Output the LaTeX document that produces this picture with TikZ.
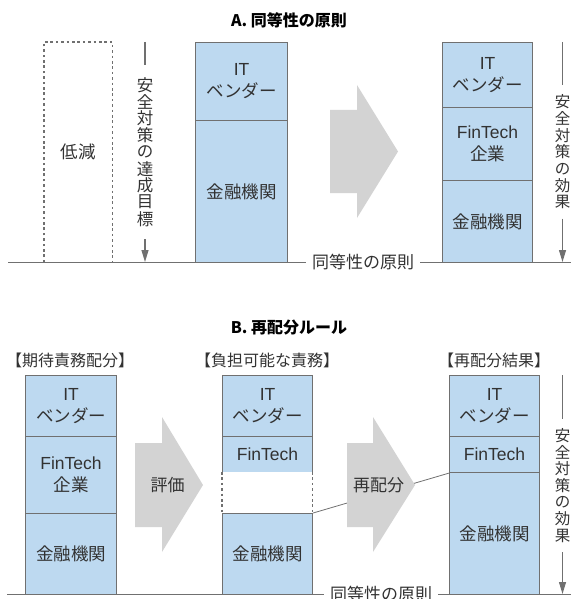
\documentclass[tikz,border=0pt]{standalone}
\usepackage{fontspec}
\setmainfont{Noto Sans CJK JP}
\newfontfamily\lat{Liberation Sans}
\usetikzlibrary{arrows.meta}
\definecolor{boxblue}{RGB}{189,217,240}
\definecolor{edge}{RGB}{112,112,112}
\definecolor{arrowgray}{RGB}{211,211,211}
\definecolor{txt}{RGB}{50,50,50}
\newcommand{\vch}[1]{\hbox to 16pt{\hss\vbox to 16.7pt{\vss\hbox{#1}\vss}\hss}}
\begin{document}
\begin{tikzpicture}[x=1pt,y=-1pt,
  seg/.style={draw=edge, line width=1.1pt, fill=boxblue, anchor=north west,
    inner sep=0pt, align=center, text=txt, font=\fontsize{17.5}{22}\selectfont},
  gapseg/.style={draw=none, fill=white, anchor=north west, inner sep=0pt},
  dotside/.style={draw=edge, line width=1.8pt, dash pattern=on 2.6pt off 2.8pt},
  vlab/.style={inner xsep=0pt, text=txt, font=\fontsize{16.5}{16.7}\selectfont},
  vlabr/.style={inner xsep=0pt, text=txt, font=\fontsize{15.5}{16.7}\selectfont},
  guide/.style={draw=edge, line width=1.1pt},
  guidearrow/.style={guide, -{Triangle[width=7pt,length=12pt]}},
  base/.style={draw=edge, line width=1pt},
  baselab/.style={fill=white, inner xsep=6pt, inner ysep=1pt, text=txt, font=\fontsize{17}{19}\selectfont},
  title/.style={text=black, font=\fontsize{16}{18}\selectfont\bfseries},
  header/.style={text=txt, font=\fontsize{16}{18}\selectfont},
  bigarrow/.style={fill=arrowgray},
  arrowlab/.style={text=txt, font=\fontsize{17}{19}\selectfont},
  conn/.style={draw=edge, line width=0.8pt}
]
\useasboundingbox (0,0) rectangle (571,599);

% ================= A =================
\node[title] (titleA) at (289,20) {A. 同等性の原則};

% baseline
\coordinate (blA) at (8,262);
\coordinate (brA) at (571,262);
\draw[base] (blA) -- (brA);

% reduced (dotted) box
\node[gapseg, fill=none, minimum width=68, minimum height=220, font=\fontsize{17.5}{22}\selectfont, text=txt] (red) at (44,42) {低減};
\draw[dotside] (red.south west) |- (red.north east) -- (red.south east);

% target label
\node[vlab, inner ysep=12pt] (tgt) at (145,152) {\vbox{\offinterlineskip\vch{安}\vch{全}\vch{対}\vch{策}\vch{の}\vch{達}\vch{成}\vch{目}\vch{標}}};
\coordinate (tgtTop) at (145,42);
\coordinate (tgtBot) at (145,262);
\draw[guide] (tgtTop) -- (tgt.north);
\draw[guidearrow] (tgt.south) -- (tgtBot);

% box 1
\node[seg, minimum width=92, minimum height=78] (a1it) at (195,42) {{\lat IT}\\ベンダー};
\node[seg, minimum width=92, minimum height=142] (a1bank) at (195,120) {金融機関};

% big arrow
\fill[bigarrow] (330,110) -- (357,110) -- (357,85) -- (398,151.5) -- (357,218) -- (357,193) -- (330,193) -- cycle;

% box 2
\node[seg, minimum width=90, minimum height=65] (a2it) at (442,42) {{\lat IT}\\ベンダー};
\node[seg, minimum width=90, minimum height=73] (a2fin) at (442,107) {{\lat FinTech}\\企業};
\node[seg, minimum width=90, minimum height=82] (a2bank) at (442,180) {金融機関};

% effect label
\node[vlabr, inner ysep=8pt] (effA) at (562.5,152) {\vbox{\offinterlineskip\vch{安}\vch{全}\vch{対}\vch{策}\vch{の}\vch{効}\vch{果}}};
\coordinate (effATop) at (562.5,42);
\coordinate (effABot) at (562.5,262);
\draw[guide] (effATop) -- (effA.north);
\draw[guidearrow] (effA.south) -- (effABot);

\node[baselab] (eqA) at (363,262) {同等性の原則};

% ================= B =================
\node[title] (titleB) at (289,328) {B. 再配分ルール};

\coordinate (blB) at (7,594);
\coordinate (brB) at (571,594);
\draw[base] (blB) -- (brB);

\node[header] (hL) at (70,360) {【期待責務配分】};
\node[header] (hM) at (267,360) {【負担可能な責務】};
\node[header] (hR) at (494,360) {【再配分結果】};

% left box
\node[seg, minimum width=91, minimum height=61] (lit) at (25,375) {{\lat IT}\\ベンダー};
\node[seg, minimum width=91, minimum height=77] (lfin) at (25,436) {{\lat FinTech}\\企業};
\node[seg, minimum width=91, minimum height=81] (lbank) at (25,513) {金融機関};

% arrow 1
\fill[bigarrow] (135,443) -- (162,443) -- (162,417) -- (203,485) -- (162,552) -- (162,527) -- (135,527) -- cycle;
\node[arrowlab] (eval) at (167.5,485) {評価};

% middle box
\node[seg, minimum width=90, minimum height=61] (mit) at (222,375) {{\lat IT}\\ベンダー};
\node[seg, minimum width=90, minimum height=36] (mfin) at (222,436) {\lat FinTech};
\node[gapseg, minimum width=90, minimum height=41] (mgap) at (222,472) {};
\draw[dotside] (mgap.north west) -- (mgap.south west);
\draw[dotside] (mgap.north east) -- (mgap.south east);
\node[seg, minimum width=90, minimum height=81] (mbank) at (222,513) {金融機関};

% right box
\node[seg, minimum width=90, minimum height=61] (rit) at (449,375) {{\lat IT}\\ベンダー};
\node[seg, minimum width=90, minimum height=36] (rfin) at (449,436) {\lat FinTech};
\node[seg, minimum width=90, minimum height=122] (rbank) at (449,472) {金融機関};

% connector behind arrow 2
\draw[conn] (mbank.north east) -- (rfin.south west);

% arrow 2
\fill[bigarrow] (347,443) -- (373,443) -- (373,417) -- (415,485) -- (373,552) -- (373,527) -- (347,527) -- cycle;
\node[arrowlab] (realloc) at (378.5,485) {再配分};

% effect label B
\node[vlabr, inner ysep=8pt] (effB) at (562.5,485.5) {\vbox{\offinterlineskip\vch{安}\vch{全}\vch{対}\vch{策}\vch{の}\vch{効}\vch{果}}};
\coordinate (effBTop) at (562.5,375);
\coordinate (effBBot) at (562.5,594);
\draw[guide] (effBTop) -- (effB.north);
\draw[guidearrow] (effB.south) -- (effBBot);

\node[baselab] (eqB) at (381,594) {同等性の原則};
\end{tikzpicture}
\end{document}
